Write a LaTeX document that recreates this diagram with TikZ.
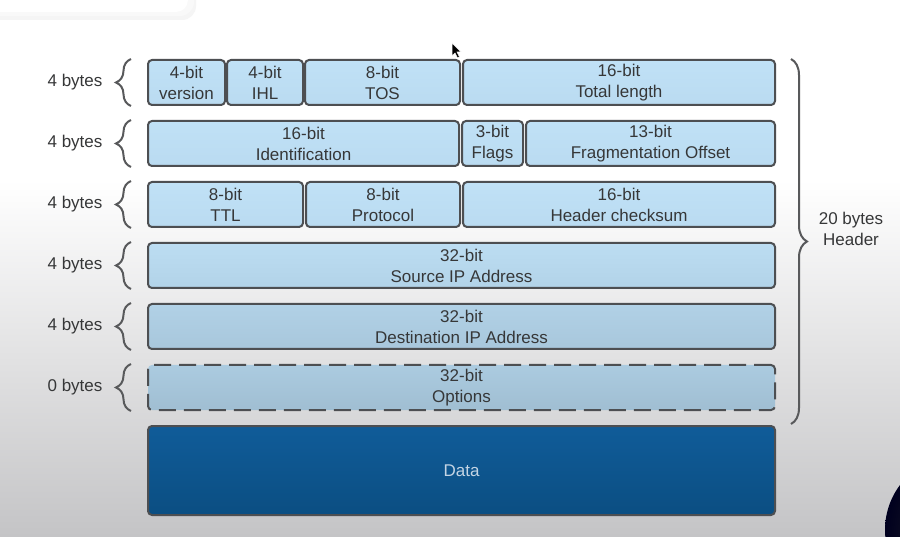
\documentclass[tikz,border=0pt]{standalone}
\usepackage{fontspec}
\setmainfont{Liberation Sans}
\usetikzlibrary{decorations.pathreplacing,shadows,calc}
\definecolor{edge}{HTML}{4D4F52}
\definecolor{txt}{HTML}{363738}
\definecolor{bracecol}{HTML}{58595B}
\definecolor{bgbot}{HTML}{C4C4C6}
\begin{document}
\begin{tikzpicture}[x=1pt,y=-1pt,
  cell/.style={draw=edge, line width=2pt, rounded corners=4pt, inner sep=0pt,
    align=center, text=txt, font=\fontsize{17}{21}\selectfont},
  rowA/.style={cell, top color=c1t, bottom color=c1b},
  rowD/.style={cell, top color=c4t, bottom color=c4b},
  rowE/.style={cell, top color=c5t, bottom color=c5b},
  optcell/.style={cell, top color=c6t, bottom color=c6b, dash pattern=on 17pt off 8pt},
  datacell/.style={cell, top color=c7t, bottom color=c7b, text=datatxt},
  lbrace/.style={decorate, decoration={brace, amplitude=15pt}, line width=2pt, draw=bracecol},
  lbl/.style={text=txt, font=\fontsize{17}{21}\selectfont, align=center, inner sep=0pt}
]
\definecolor{c1t}{HTML}{C0E1F6}\definecolor{c1b}{HTML}{BADBF1}
\definecolor{c4t}{HTML}{BCDDF2}\definecolor{c4b}{HTML}{B2D3E8}
\definecolor{c5t}{HTML}{B1D1E6}\definecolor{c5b}{HTML}{A8C7DC}
\definecolor{c6t}{HTML}{ABCBE0}\definecolor{c6b}{HTML}{A0BED2}
\definecolor{c7t}{HTML}{105C99}\definecolor{c7b}{HTML}{0B4E82}
\definecolor{datatxt}{HTML}{C3D4E4}
\useasboundingbox (0,0) rectangle (900,537);
\begin{scope}
\clip (0,0) rectangle (900,537);
% background
\fill[white] (0,0) rectangle (900,181);
\shade[top color=white, bottom color=bgbot] (0,180) rectangle (900,537);
% top-left card with soft shadow
\fill[black!4, rounded corners=14pt] (-30,-30) rectangle (196,20);
\fill[black!2.5, rounded corners=14pt] (-30,-30) rectangle (194,16);
\fill[white, rounded corners=12pt] (-30,-30) rectangle (188,12);
% dark round shape, bottom right
\shade[inner color=black!85, outer color=black!80!blue!60!black] (960,530) circle (75);
% cursor
\fill[black, draw=white, line width=0.5pt] (452,43) -- (452,56) -- (455,53) -- (457.5,58) -- (459.5,57) -- (457,52) -- (461,52) -- cycle;
\end{scope}

% row 1
\node[rowA, minimum width=77pt, minimum height=45pt] (ver) at (186.5,82.5) {4-bit\\version};
\node[rowA, minimum width=76pt, minimum height=45pt] (ihl) at (265,82.5) {4-bit\\IHL};
\node[rowA, minimum width=155pt, minimum height=45pt] (tos) at (382.5,82.5) {8-bit\\TOS};
\node[rowA, minimum width=312pt, minimum height=45pt] (tlen) at (619,82.5) {16-bit\\Total length};
% row 2
\node[rowA, minimum width=311pt, minimum height=45pt] (ident) at (303.5,143.5) {16-bit\\Identification};
\node[rowA, minimum width=61pt, minimum height=45pt] (flags) at (492.5,143.5) {3-bit\\Flags};
\node[rowA, minimum width=249pt, minimum height=45pt] (frag) at (650.5,143.5) {13-bit\\Fragmentation Offset};
% row 3
\node[rowA, minimum width=155pt, minimum height=45pt] (ttl) at (225.5,204.5) {8-bit\\TTL};
\node[rowA, minimum width=154pt, minimum height=45pt] (proto) at (383,204.5) {8-bit\\Protocol};
\node[rowA, minimum width=312pt, minimum height=45pt] (csum) at (619,204.5) {16-bit\\Header checksum};
% row 4, 5
\node[rowD, minimum width=627pt, minimum height=45pt] (src) at (461.5,265.5) {32-bit\\Source IP Address};
\node[rowE, minimum width=627pt, minimum height=45pt] (dst) at (461.5,326.5) {32-bit\\Destination IP Address};
% options
\node[optcell, minimum width=627pt, minimum height=45pt] (opt) at (461.5,387.5) {32-bit\\Options};
% data
\node[datacell, minimum width=627pt, minimum height=89pt] (data) at (461.5,470.5) {Data};

% left braces and labels
\foreach \n/\t in {ver/4 bytes, ident/4 bytes, ttl/4 bytes, src/4 bytes, dst/4 bytes, opt/0 bytes}{
  \draw[lbrace] ([xshift=-16pt]\n.south west) -- ([xshift=-16pt]\n.north west);
  \node[lbl] (l\n) at ([xshift=-72pt]\n.west) {\t};
}
% right brace
\draw[lbrace, decoration={amplitude=16pt}] ([xshift=15pt]tlen.north east) -- ([xshift=15pt,yshift=1pt]data.north east);
\node[lbl] (hdr) at (851,229) {20 bytes\\Header};
\end{tikzpicture}
\end{document}
